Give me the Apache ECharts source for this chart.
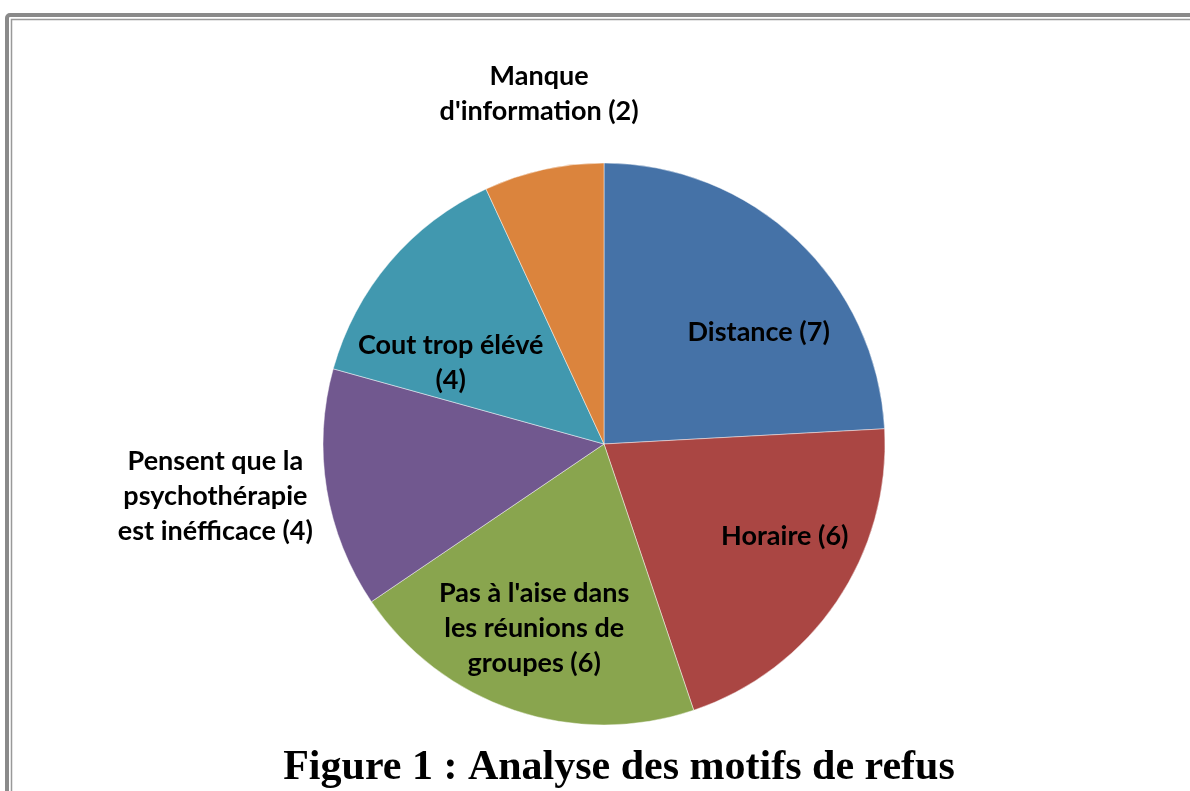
<!DOCTYPE html>
<html>
<head>
<meta charset="utf-8">
<script src="https://cdn.jsdelivr.net/npm/echarts@6/dist/echarts.min.js"></script>
<style>
    html, body { margin: 0; padding: 0; background: #fff; }
    #main { width: 1190px; height: 791px; }
</style>
</head>
<body>
<div id="main"></div>
<script>
// donnees du camembert (ordre horaire depuis midi)
var categories = ['Distance', 'Horaire', "Pas à l'aise dans les réunions de groupes",
    'Pensent que la psychothérapie est inéfficace', 'Cout trop élévé', "Manque d'information"];
var values = [7, 6, 6, 4, 4, 2];
var labels = ['Distance (7)', 'Horaire (6)', "Pas à l'aise dans\nles réunions de\ngroupes (6)",
    'Pensent que la\npsychothérapie\nest inéfficace (4)', 'Cout trop élévé\n(4)', "Manque\nd'information (2)"];
var colors = ['#4572A7', '#AA4643', '#89A54E', '#71588F', '#4198AF', '#DB843D'];
// decalage des etiquettes par rapport a la position "inside"
var offsets = [[56, -8], [62, 12], [-24, 48], [-247, 29], [-44, 12], [-34, -210]];

var data = [];
for (var i = 0; i < values.length; i++) {
    data.push({
        name: categories[i],
        value: values[i],
        itemStyle: { color: colors[i] },
        label: { formatter: labels[i], offset: offsets[i] }
    });
}

var chart = echarts.init(document.getElementById('main'));
var option = {
    animation: false,
    graphic: [
        // cadre double en haut a gauche
        {
            type: 'rect', silent: true,
            shape: { x: 7, y: 15, width: 1220, height: 820, r: 3 },
            style: { fill: 'none', stroke: '#8a8a8a', lineWidth: 4 }
        },
        {
            type: 'rect', silent: true,
            shape: { x: 11.5, y: 19.5, width: 1220, height: 820 },
            style: { fill: 'none', stroke: '#999', lineWidth: 1.5 }
        },
        {
            type: 'text', silent: true,
            x: 619, y: 768, scaleX: 1.0,
            style: {
                text: 'Figure 1 : Analyse des motifs de refus',
                font: 'bold 42px "Liberation Serif", "Times New Roman", serif',
                fill: '#000', align: 'center', verticalAlign: 'middle'
            }
        }
    ],
    series: [
        {
            type: 'pie',
            center: [604, 444],
            radius: [0, 281],
            startAngle: 90,
            clockwise: true,
            avoidLabelOverlap: false,
            itemStyle: { borderColor: 'rgba(255,255,255,0.45)', borderWidth: 1 },
            label: {
                show: true,
                position: 'inside',
                color: '#000',
                fontFamily: 'Lato',
                fontWeight: 'bold',
                fontSize: 27,
                lineHeight: 35,
                align: 'center'
            },
            labelLine: { show: false },
            emphasis: { disabled: true },
            data: data
        }
    ]
};
chart.setOption(option);
</script>
</body>
</html>
